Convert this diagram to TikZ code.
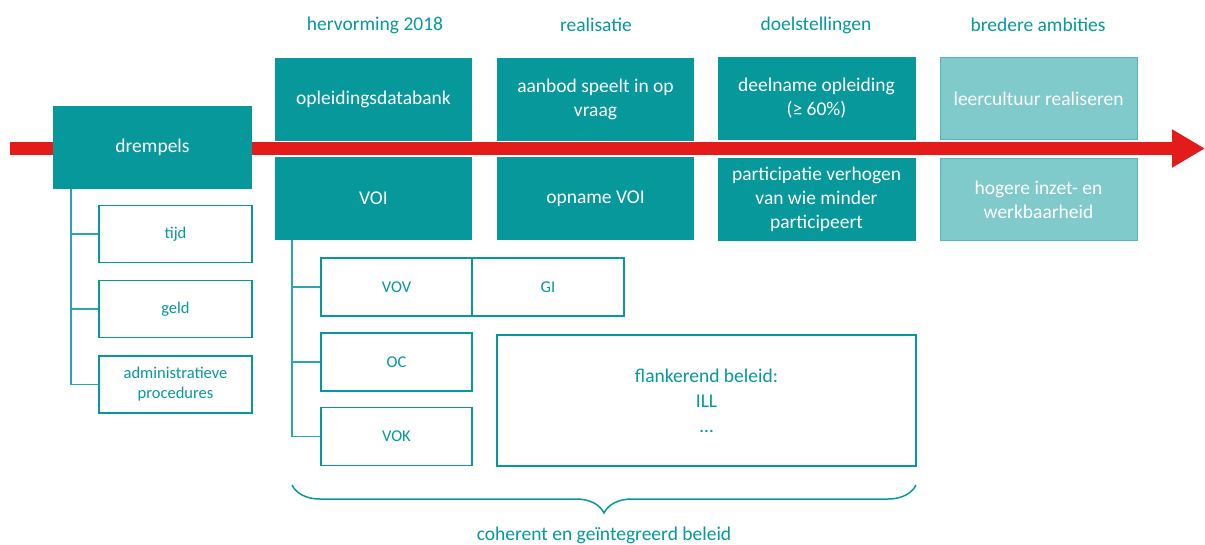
\documentclass[tikz,border=0pt]{standalone}
\usepackage{fontspec}
\setmainfont{Carlito}
\usetikzlibrary{arrows.meta,decorations.pathreplacing}

\definecolor{petrol}{HTML}{06989B}
\definecolor{petrollicht}{HTML}{80CACC}
\definecolor{pijlrood}{HTML}{E31B1B}

\tikzset{
  kop/.style={text=petrol, font=\fontsize{19.5}{24}\selectfont},
  blok/.style={fill=petrol, text=white, align=center, inner sep=0pt,
    minimum width=198pt, minimum height=83pt, font=\fontsize{19.5}{24}\selectfont},
  lichtblok/.style={blok, fill=petrollicht, draw=petrol!70, line width=1pt,
    minimum width=197pt, minimum height=82pt},
  kader/.style={draw=petrol, line width=1.5pt, fill=white, text=petrol, align=center,
    inner sep=0pt, font=\fontsize{16.5}{20}\selectfont},
  tak/.style={draw=petrol!85, line width=1.5pt},
}

\begin{document}
\begin{tikzpicture}[x=1pt, y=-1pt]
        \useasboundingbox (0,0) rectangle (1205,544);

        \coordinate (start) at (10,148.5);
        \coordinate (eind) at (1205,148.5);
        \draw[pijlrood, line width=13pt, -{Triangle[length=33pt, width=36pt]}] (start) -- (eind);

        \node[kop] (hervorming) at (375,25) {hervorming 2018};
        \node[kop] (realisatie) at (596,25) {realisatie};
        \node[kop] (doelen) at (816,25) {doelstellingen};
        \node[kop] (ambities) at (1038,25) {bredere ambities};

        \node[blok, minimum width=199pt] (drempels) at (152.5,147.5) {drempels};
        \node[blok, minimum width=197pt] (databank) at (373.5,99) {opleidingsdatabank};
        \node[blok, minimum width=197pt] (voi) at (373.5,198.5) {VOI};
        \node[blok, minimum width=197pt] (aanbod) at (595.5,99) {aanbod speelt in op\\vraag};
        \node[blok, minimum width=197pt] (opname) at (595.5,198.5) {opname VOI};
        \node[blok] (deelname) at (816.5,98.5) {deelname opleiding\\(≥ 60\%)};
        \node[blok] (particip) at (816.5,199.5) {participatie verhogen\\van wie minder\\participeert};
        \node[lichtblok] (leercultuur) at (1038.5,98.5) {leercultuur realiseren};
        \node[lichtblok] (inzet) at (1038.5,199.5) {hogere inzet- en\\werkbaarheid};

        \node[kader, minimum width=153pt, minimum height=57pt] (tijd) at (175.5,234) {tijd};
        \node[kader, minimum width=153pt, minimum height=57pt] (geld) at (175.5,309) {geld};
        \node[kader, minimum width=153pt, minimum height=57pt] (admin) at (175.5,384.5) {administratieve\\procedures};

        \node[kader, minimum width=151pt, minimum height=58pt] (vov) at (396.5,287) {VOV};
        \node[kader, minimum width=152pt, minimum height=58pt] (gi) at (548,287) {GI};
        \node[kader, minimum width=151pt, minimum height=58pt] (oc) at (396.5,362) {OC};
        \node[kader, minimum width=151pt, minimum height=58pt] (vok) at (396.5,436.5) {VOK};
        \node[kader, minimum width=419pt, minimum height=131pt, font=\fontsize{19.5}{25}\selectfont] (flank) at (706.5,400.5) {flankerend beleid:\\ILL\\…};

        \draw[tak] ([xshift=18pt]drempels.south west) |- (tijd.west);
        \draw[tak] ([xshift=18pt]drempels.south west) |- (geld.west);
        \draw[tak] ([xshift=18pt]drempels.south west) |- (admin.west);
        \draw[tak] ([xshift=17pt]voi.south west) |- (vov.west);
        \draw[tak] ([xshift=17pt]voi.south west) |- (oc.west);
        \draw[tak] ([xshift=17pt]voi.south west) |- (vok.west);

        \coordinate (links) at (292,485);
        \coordinate (rechts) at (916,485);
        \draw[petrol, line width=1.5pt, decorate, decoration={brace, mirror, amplitude=28pt}] (links) -- (rechts);
        \node[kop] (beleid) at (604,535) {coherent en geïntegreerd beleid};
\end{tikzpicture}
\end{document}
